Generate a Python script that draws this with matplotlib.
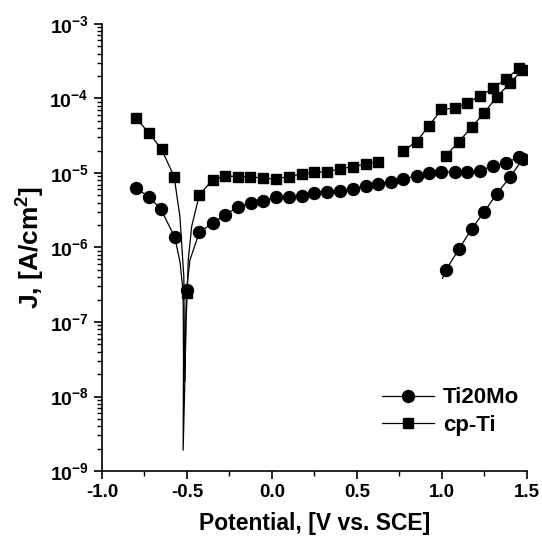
import numpy as np
import matplotlib
matplotlib.use("Agg")
import matplotlib.pyplot as plt
from matplotlib.lines import Line2D
from matplotlib.ticker import MultipleLocator, FormatStrFormatter, NullFormatter, LogFormatterMathtext

plt.rcParams['font.family'] = ['Liberation Sans', 'DejaVu Sans']
plt.rcParams['font.weight'] = 'bold'
plt.rcParams['mathtext.fontset'] = 'custom'
plt.rcParams['mathtext.rm'] = 'Liberation Sans:bold'
plt.rcParams['mathtext.bf'] = 'Liberation Sans:bold'
plt.rcParams['mathtext.default'] = 'bf'
plt.rcParams['axes.unicode_minus'] = False

# Ti20Mo: potential (V vs SCE) and log10 of current density (A/cm2)
ti20mo_e = [-0.800, -0.724, -0.653, -0.571, -0.540, -0.522, -0.520, -0.522, -0.512, -0.505,
            -0.502, -0.482, -0.427, -0.349, -0.276, -0.198, -0.124, -0.051, 0.027, 0.100,
            0.175, 0.249, 0.325, 0.400, 0.475, 0.551, 0.625, 0.698, 0.772, 0.851,
            0.925, 0.998, 1.076, 1.149, 1.224, 1.302, 1.376, 1.455, 1.475,
            1.400, 1.322, 1.250, 1.175, 1.100, 1.024, 1.004]
ti20mo_logj = [-5.205, -5.318, -5.487, -5.863, -6.20, -6.60, -7.50, -8.72, -7.80, -6.80,
               -6.570, -6.170, -5.796, -5.675, -5.564, -5.452, -5.407, -5.372, -5.326, -5.326,
               -5.305, -5.264, -5.251, -5.237, -5.215, -5.170, -5.148, -5.117, -5.085, -5.036,
               -5.004, -4.991, -4.982, -4.991, -4.969, -4.902, -4.870, -4.781, -4.816,
               -5.058, -5.282, -5.519, -5.752, -6.024, -6.302, -6.413]
ti20mo_marks = [0, 1, 2, 3, 10] + list(range(12, 45))

# cp-Ti (nan = gap in the curve)
cpti_e = [-0.800, -0.724, -0.649, -0.575, -0.541, -0.518, -0.515, -0.512, -0.505, -0.498,
          -0.492, -0.472, -0.427, -0.349, -0.275, -0.198, -0.126, -0.051, 0.024, 0.100,
          0.175, 0.249, 0.325, 0.400, 0.475, 0.551, 0.625, np.nan,
          0.772, 0.851, 0.925, 0.998, 1.076, 1.149, 1.224, 1.302, 1.376, 1.455, 1.475,
          1.400, 1.322, 1.250, 1.175, 1.100, 1.024]
cpti_logj = [-4.266, -4.459, -4.682, -5.049, -5.586, -6.39, -7.20, -7.80, -7.00, -6.607,
             -6.170, -5.720, -5.295, -5.094, -5.040, -5.049, -5.049, -5.071, -5.081, -5.049,
             -5.013, -4.991, -4.982, -4.946, -4.915, -4.883, -4.848, np.nan,
             -4.705, -4.579, -4.365, -4.145, -4.132, -4.065, -3.966, -3.864, -3.738, -3.595, -3.617,
             -3.796, -3.984, -4.190, -4.387, -4.579, -4.767]
cpti_marks = [0, 1, 2, 3, 9] + list(range(12, 27)) + list(range(28, 45))

decades = [-9, -8, -7, -6, -5, -4, -3]

fig = plt.figure(figsize=(5.42, 5.38), dpi=100)
ax = fig.add_axes([0.188, 0.1245, 0.784, 0.831])

ax.plot(ti20mo_e, np.power(10.0, ti20mo_logj), color='black', lw=0.9,
        marker='o', ms=8.6, markevery=ti20mo_marks)
ax.plot(cpti_e, np.power(10.0, cpti_logj), color='black', lw=0.9,
        marker='s', ms=7.4, markevery=cpti_marks)

ax.set_yscale('log')
ax.set_xlim(-1.0, 1.5)
ax.set_ylim(1e-9, 1e-3)
ax.xaxis.set_major_locator(MultipleLocator(0.5))
ax.xaxis.set_minor_locator(MultipleLocator(0.25))
ax.xaxis.set_major_formatter(FormatStrFormatter('%.1f'))

major_y = [10.0 ** d for d in decades]
minor_y = [m * 10.0 ** d for d in decades[:-1] for m in range(2, 10)]
ax.set_yticks(major_y)
ax.set_yticks(minor_y, minor=True)
ax.yaxis.set_major_formatter(LogFormatterMathtext())
ax.yaxis.set_minor_formatter(NullFormatter())

ax.spines['top'].set_visible(False)
ax.spines['right'].set_visible(False)
ax.spines['left'].set_linewidth(1.2)
ax.spines['bottom'].set_linewidth(1.2)
ax.tick_params(which='major', direction='out', length=6, width=1.2, labelsize=13.5)
ax.tick_params(axis='y', which='major', labelsize=14)
ax.tick_params(which='minor', direction='out', length=3.5, width=1.0)

ax.set_xlabel('Potential, [V vs. SCE]', fontsize=16.5, fontweight='bold', labelpad=8)
ax.set_ylabel('J, [A/cm$^2$]', fontsize=19, fontweight='bold', labelpad=2)

handles = [Line2D([], [], color='black', lw=0.9, marker='o', ms=8.6),
           Line2D([], [], color='black', lw=0.9, marker='s', ms=7.4)]
ax.legend(handles, ['Ti20Mo', 'cp-Ti'], loc='upper left', bbox_to_anchor=(0.612, 0.232),
          frameon=False, handlelength=2.35, handletextpad=0.4, labelspacing=0.3,
          prop={'weight': 'bold', 'size': 16})

fig.savefig('out.png', dpi=100)
